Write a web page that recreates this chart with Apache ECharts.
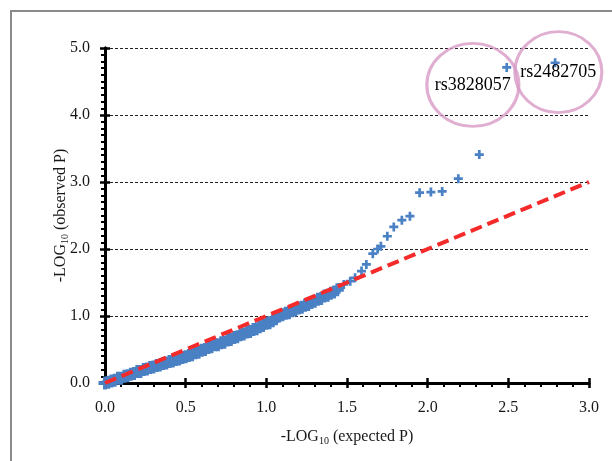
<!DOCTYPE html>
<html>
<head>
<meta charset="utf-8">
<script src="https://cdn.jsdelivr.net/npm/echarts@6/dist/echarts.min.js"></script>
<style>
  html, body { margin: 0; padding: 0; background: #fff; }
  #chart { width: 612px; height: 461px; }
</style>
</head>
<body>
<div id="chart"></div>
<script>
// expected vs observed -log10(p)
// dense part of the QQ curve
var bandX = [0.00,0.02,0.04,0.06,0.08,0.10,0.12,0.14,0.16,0.18,0.20,0.22,0.24,0.26,0.28,0.30,0.32,0.34,0.36,0.38,
  0.40,0.42,0.44,0.46,0.48,0.50,0.52,0.54,0.56,0.58,0.60,0.62,0.64,0.66,0.68,0.70,0.72,0.74,0.76,0.78,
  0.80,0.82,0.84,0.86,0.88,0.90,0.92,0.94,0.96,0.98,1.00,1.02,1.04,1.06,1.08,1.10,1.12,1.14,1.16,1.18,
  1.20,1.22,1.24,1.26,1.28,1.30,1.32,1.34,1.36,1.38,1.40,1.42,1.44];
var bandY = [0.00,0.01,0.03,0.04,0.07,0.07,0.10,0.11,0.13,0.14,0.17,0.17,0.20,0.21,0.23,0.24,0.26,0.27,0.29,0.30,
  0.32,0.33,0.35,0.36,0.38,0.39,0.41,0.42,0.45,0.46,0.49,0.50,0.53,0.54,0.57,0.57,0.60,0.61,0.64,0.65,
  0.68,0.69,0.72,0.73,0.76,0.77,0.80,0.81,0.84,0.86,0.89,0.90,0.93,0.96,1.00,1.02,1.04,1.05,1.08,1.09,
  1.12,1.13,1.16,1.17,1.20,1.22,1.25,1.26,1.30,1.31,1.34,1.36,1.39];
// upper tail, single markers
var tailX = [1.45,1.48,1.52,1.55,1.59,1.62,1.66,1.69,1.71,1.75,1.79,1.84,1.89,1.95,2.02,2.09,2.19,2.32,2.49,2.79];
var tailY = [1.42,1.47,1.52,1.57,1.67,1.77,1.93,2.00,2.04,2.19,2.33,2.43,2.49,2.84,2.85,2.86,3.05,3.41,4.71,4.78];

// reference line y = x
var refLine = [[0, 0], [3, 3]];

// circled SNPs: label, circle centre (data units)
var snpNames = ['rs3828057', 'rs2482705'];
var snpCentres = [[2.28, 4.45], [2.81, 4.64]];
var snpCircleSize = [[92, 83], [87, 81]];

var xTicks = { min: 0, max: 3, interval: 0.5 };
var yTicks = { min: 0, max: 5, interval: 1 };

var font = 'Liberation Serif';
var ink = '#1a1718';
var blue = '#4a80c4';
var plus = 'path://M3.5,0h3v3.5h3.5v3h-3.5v3.5h-3v-3.5h-3.5v-3h3.5z';

var chart = echarts.init(document.getElementById('chart'), null, { renderer: 'canvas' });

var fmt = function (v) { return v.toFixed(1); };
var subRich = { sub: { fontFamily: font, fontSize: 10, color: ink, verticalAlign: 'bottom', padding: [8, 0, 0, 0] } };

function axisBase(t) {
  return {
    type: 'value', min: t.min, max: t.max, interval: t.interval,
    axisLine: { show: true, lineStyle: { color: '#000', width: 3 } }
  };
}

var xMain = Object.assign(axisBase(xTicks), {
  position: 'bottom',
  axisTick: { show: true, length: 5, lineStyle: { color: '#000', width: 2.5 } },
  minorTick: { show: true, splitNumber: 5, length: 4, lineStyle: { color: '#000', width: 2 } },
  axisLabel: { formatter: fmt, color: ink, fontFamily: font, fontSize: 16, margin: 17 },
  splitLine: { show: false },
  name: '-LOG{sub|10} (expected P)',
  nameLocation: 'middle',
  nameGap: 45,
  nameMoveOverlap: false,
  nameTextStyle: { color: ink, fontFamily: font, fontSize: 16, rich: subRich }
});
var xInner = Object.assign(axisBase(xTicks), {
  position: 'bottom',
  axisTick: { show: true, inside: true, length: 5, lineStyle: { color: '#000', width: 2.5 } },
  axisLabel: { show: false },
  splitLine: { show: false }
});

var yMain = Object.assign(axisBase(yTicks), {
  position: 'left',
  axisTick: { show: true, length: 5, lineStyle: { color: '#000', width: 2.5 } },
  minorTick: { show: true, splitNumber: 10, length: 4, lineStyle: { color: '#000', width: 2 } },
  axisLabel: { formatter: fmt, color: ink, fontFamily: font, fontSize: 16, margin: 15 },
  splitLine: { show: true, lineStyle: { color: '#222', width: 1, type: [3, 2] } },
  name: '-LOG{sub|10} (observed P)',
  nameLocation: 'middle',
  nameGap: 35,
  nameMoveOverlap: false,
  nameTextStyle: { color: ink, fontFamily: font, fontSize: 16, rich: subRich }
});
var yInner = Object.assign(axisBase(yTicks), {
  position: 'left',
  axisTick: { show: true, inside: true, length: 5, lineStyle: { color: '#000', width: 2.5 } },
  axisLabel: { show: false },
  splitLine: { show: false }
});

var band = bandX.map(function (x, i) { return [x, bandY[i]]; });
var tail = tailX.map(function (x, i) { return [x, tailY[i]]; });
var snpData = snpCentres.map(function (c, i) {
  return { value: c, name: snpNames[i], symbolSize: snpCircleSize[i] };
});

var option = {
  animation: false,
  backgroundColor: '#fff',
  grid: { left: 105, right: 23, top: 48, bottom: 78, containLabel: false },
  graphic: [{
    type: 'rect',
    shape: { x: 11, y: 11, width: 700, height: 600 },
    style: { fill: 'none', stroke: '#8a8a8a', lineWidth: 2 },
    silent: true
  }],
  xAxis: [xMain, xInner],
  yAxis: [yMain, yInner],
  series: [
    {
      type: 'scatter',
      data: band,
      symbol: plus,
      symbolSize: 13,
      itemStyle: { color: blue, opacity: 1 },
      z: 3
    },
    {
      type: 'scatter',
      data: tail,
      symbol: plus,
      symbolSize: 9,
      itemStyle: { color: blue, opacity: 1 },
      z: 3
    },
    {
      type: 'line',
      data: refLine,
      symbol: 'none',
      lineStyle: { color: '#f52a2a', width: 4, type: [12, 6] },
      z: 4
    },
    {
      type: 'scatter',
      data: snpData,
      symbol: 'circle',
      clip: false,
      itemStyle: { color: 'rgba(255,255,255,0)', borderColor: '#d79ac6', borderWidth: 3 },
      label: {
        show: true, position: 'inside', formatter: '{b}',
        color: '#000', fontFamily: font, fontSize: 18,
        textBorderWidth: 0, textBorderColor: 'transparent', opacity: 1
      },
      z: 5
    }
  ]
};

chart.setOption(option);
</script>
</body>
</html>
